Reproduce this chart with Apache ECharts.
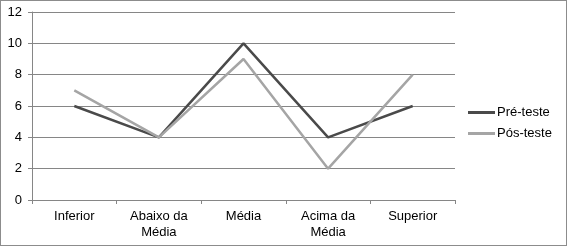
<!DOCTYPE html>
<html><head><meta charset="utf-8">
<script src="https://cdn.jsdelivr.net/npm/echarts@6/dist/echarts.min.js"></script>
<style>html,body{margin:0;padding:0;background:#fff}#c{width:567px;height:246px;box-sizing:border-box;border:1px solid #8c8c8c}</style>
</head><body><div id="c"></div>
<script>
const categories = ['Inferior', 'Abaixo da\nMédia', 'Média', 'Acima da\nMédia', 'Superior'];
const preTeste = [6, 4, 10, 4, 6];
const posTeste = [7, 4, 9, 2, 8];
const yTicks = { min: 0, max: 12, interval: 2 };

const chart = echarts.init(document.getElementById('c'), null, { renderer: 'canvas' });
const font = 'Liberation Sans, Arial, sans-serif';
chart.setOption({
  animation: false,
  grid: { left: 31, right: 111, top: 11, bottom: 45 },
  legend: {
    orient: 'vertical', left: 467, top: 104, itemWidth: 27, itemHeight: 3, itemGap: 6, padding: 0,
    icon: 'rect',
    textStyle: { fontFamily: font, fontSize: 13, color: '#000', padding: [0,0,0,-3], lineHeight: 15 },
    data: ['Pré-teste', 'Pós-teste']
  },
  xAxis: {
    type: 'category', data: categories, boundaryGap: true,
    axisLine: { lineStyle: { color: '#868686' } },
    axisTick: { show: true, length: 4, alignWithLabel: false, lineStyle: { color: '#868686' } },
    axisLabel: { fontFamily: font, fontSize: 13, color: '#000', margin: 8, lineHeight: 16, interval: 0 }
  },
  yAxis: {
    type: 'value', min: yTicks.min, max: yTicks.max, interval: yTicks.interval,
    axisLine: { show: true, lineStyle: { color: '#868686' } },
    axisTick: { show: true, length: 4, inside: false, lineStyle: { color: '#868686' } },
    splitLine: { lineStyle: { color: '#868686' } },
    axisLabel: { fontFamily: font, fontSize: 13, color: '#000', margin: 10 }
  },
  series: [
    { name: 'Pré-teste', type: 'line', data: preTeste, symbol: 'none',
      lineStyle: { color: '#4a4a4a', width: 2.5 }, itemStyle: { color: '#4a4a4a' } },
    { name: 'Pós-teste', type: 'line', data: posTeste, symbol: 'none',
      lineStyle: { color: '#a5a5a5', width: 2.5 }, itemStyle: { color: '#a5a5a5' } }
  ]
});
</script></body></html>
